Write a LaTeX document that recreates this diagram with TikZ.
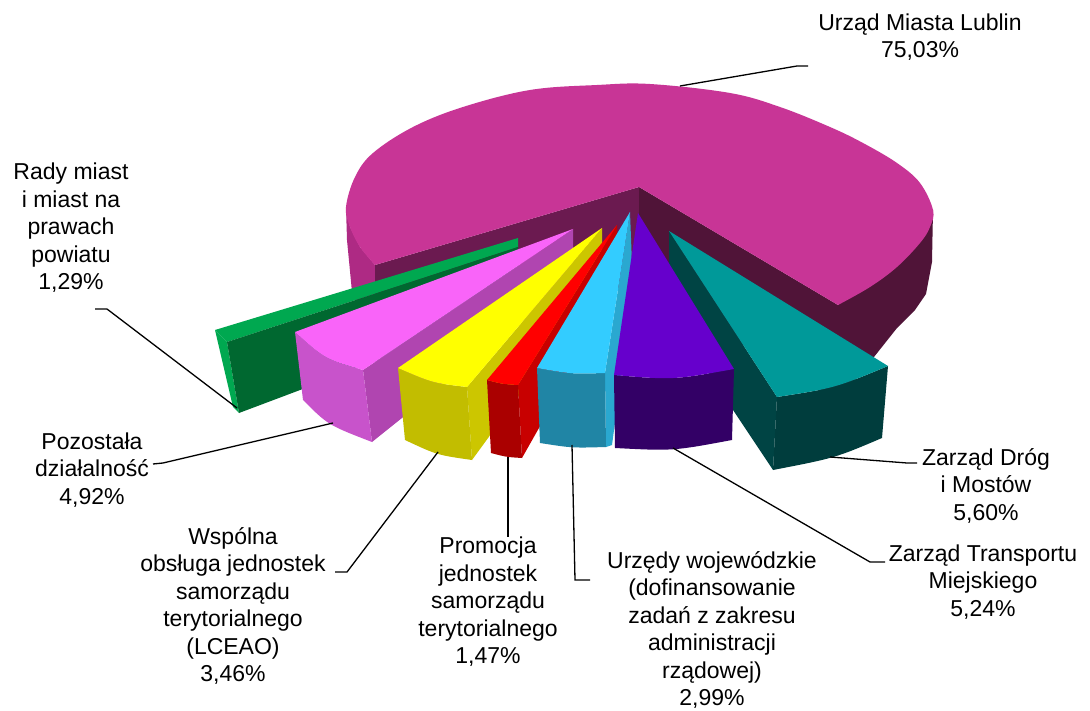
\documentclass[tikz,border=0pt]{standalone}
\usepackage{fontspec}
\setmainfont{Liberation Sans}
\definecolor{mtop}{HTML}{C83596}
\definecolor{mside}{HTML}{AE2A84}
\definecolor{mcutl}{HTML}{6B1A50}
\definecolor{mcutr}{HTML}{501438}
\definecolor{gtop}{HTML}{00A850}
\definecolor{gdark}{HTML}{006830}
\definecolor{ptop}{HTML}{F964F9}
\definecolor{pout}{HTML}{C853CB}
\definecolor{prad}{HTML}{B045B0}
\definecolor{ytop}{HTML}{FFFF00}
\definecolor{yout}{HTML}{C2BD00}
\definecolor{yrad}{HTML}{CCC600}
\definecolor{rtop}{HTML}{FF0000}
\definecolor{rout}{HTML}{AA0000}
\definecolor{rrad}{HTML}{C80000}
\definecolor{btop}{HTML}{33CCFF}
\definecolor{bout}{HTML}{2085A5}
\definecolor{brad}{HTML}{2AA8D0}
\definecolor{vtop}{HTML}{6600CC}
\definecolor{vout}{HTML}{330066}
\definecolor{ttop}{HTML}{009999}
\definecolor{tout}{HTML}{003D3D}
\definecolor{trad}{HTML}{004444}
\begin{document}
\begin{tikzpicture}[x=1pt,y=-1pt,
  lbl/.style={align=center,inner sep=0pt,font=\fontsize{23}{27.5}\selectfont},
  leader/.style={draw=black,line width=1.3pt}]
\path[use as bounding box,fill=white] (0,0) rectangle (1090,711);
% main pie: walls
\fill[mside] (346,207) -- (350,227) -- (360,247) -- (375,265) -- (375,350) -- (352,292) -- (347,240) -- cycle;
\fill[mcutl] (375,265) -- (639,187) -- (639,285) -- (375,350) -- cycle;
\fill[mcutr] (639,187) -- (838,305) -- (838,400) -- (639,285) -- cycle;
\fill[mcutr] (933,210) -- (838,305) -- (838,400) -- (870,362) -- (897,328) -- (915,310) -- (926,294) -- (932,262) -- cycle;
% main pie: top
\fill[mtop] (639,187) -- (375,265) -- plot[smooth,tension=0.6] coordinates {(375,265) (360,247) (350,227) (346,207) (355,177) (373,153) (413,127) (463,107) (530,90) (597,85) (650,84) (730,93) (780,107) (830,127) (863,143) (897,163) (920,183) (933,210) (930,227) (920,243) (897,267) (870,287) (838,305)} -- cycle;
% green slice
\fill[gtop] (215,330) -- (518,238) -- (518,247) -- (227,342) -- cycle;
\fill[gtop] (215,330) -- (227,342) -- (239,413) -- (233,407) -- cycle;
\fill[gdark] (227,342) -- (518,247) -- (518,308) -- (239,413) -- cycle;
% pink slice
\fill[prad] (363,370) -- (573,229) -- (573,281) -- (372,442) -- cycle;
\fill[pout] (295,332) .. controls (325,359) .. (363,370) -- (372,442) .. controls (328,425) .. (303,400) -- cycle;
\fill[ptop] (295,332) .. controls (325,359) .. (363,370) -- (573,229) -- cycle;
% yellow slice
\fill[yrad] (467,387) -- (602,228) -- (602,282) -- (472,460) -- cycle;
\fill[yout] (398,368) .. controls (433,383) .. (467,387) -- (472,460) .. controls (437,455) .. (405,440) -- cycle;
\fill[ytop] (398,368) .. controls (433,383) .. (467,387) -- (602,228) -- cycle;
% red slice
\fill[rrad] (518,385) -- (617,225) -- (617,290) -- (522,458) -- cycle;
\fill[rout] (487,380) .. controls (502,384) .. (518,385) -- (522,458) .. controls (506,457) .. (491,453) -- cycle;
\fill[rtop] (487,380) .. controls (502,384) .. (518,385) -- (617,225) -- cycle;
% blue slice
\fill[brad] (605,373) -- (630,212) -- (633,290) -- (612,445) -- (606,447) -- cycle;
\fill[bout] (537,368) .. controls (571,374) .. (605,373) -- (606,447) .. controls (572,448) .. (540,443) -- cycle;
\fill[btop] (537,368) .. controls (571,374) .. (605,373) -- (630,212) -- cycle;
% teal slice
\fill[trad] (669,231) -- (777,397) -- (773,470) -- (669,314) -- cycle;
\fill[tout] (777,397) .. controls (835,388) .. (888,366) -- (882,438) .. controls (835,458) .. (773,470) -- cycle;
\fill[ttop] (669,231) -- (777,397) .. controls (835,388) .. (888,366) -- cycle;
% purple slice
\fill[vout] (614,375) .. controls (673,380) .. (734,369) -- (732,440) .. controls (673,451) .. (615,448) -- cycle;
\fill[vtop] (638,213) -- (614,375) .. controls (673,380) .. (734,369) -- cycle;
% labels
\node[lbl] (lumL) at (920,37) {Urząd Miasta Lublin\\75,03\%};
\node[lbl] (lrad) at (71,228) {Rady miast\\i miast na\\prawach\\powiatu\\1,29\%};
\node[lbl] (lpoz) at (92,470) {Pozostała\\działalność\\4,92\%};
\node[lbl] (lwsp) at (233,606) {Wspólna\\obsługa jednostek\\samorządu\\terytorialnego\\(LCEAO)\\3,46\%};
\node[lbl] (lpro) at (488,602) {Promocja\\jednostek\\samorządu\\terytorialnego\\1,47\%};
\node[lbl] (luw) at (712,630) {Urzędy wojewódzkie\\(dofinansowanie\\zadań z zakresu\\administracji\\rządowej)\\2,99\%};
\node[lbl] (lztm) at (983,582) {Zarząd Transportu\\Miejskiego\\5,24\%};
\node[lbl] (lzdm) at (986,486) {Zarząd Dróg\\i Mostów\\5,60\%};
% leader coordinates
\coordinate (sUM) at (680,86);   \coordinate (kUM) at (797,66);  \coordinate (eUM) at (808,66);
\coordinate (sRA) at (237,408);  \coordinate (kRA) at (107,309); \coordinate (eRA) at (95,309);
\coordinate (sPO) at (333,423);  \coordinate (kPO) at (163,463); \coordinate (ePO) at (153,464);
\coordinate (sWS) at (438,452);  \coordinate (kWS) at (347,572); \coordinate (eWS) at (335,572);
\coordinate (sPR) at (508,457);  \coordinate (ePR) at (508,537);
\coordinate (sUW) at (572,445);  \coordinate (kUW) at (575,580); \coordinate (eUW) at (590,580);
\coordinate (sZT) at (673,448);  \coordinate (kZT) at (870,562); \coordinate (eZT) at (885,562);
\coordinate (sZD) at (830,457);  \coordinate (kZD) at (907,463); \coordinate (eZD) at (917,463);
\draw[leader] (sUM) -- (kUM) -- (eUM);
\draw[leader] (sRA) -- (kRA) -- (eRA);
\draw[leader] (sPO) -- (kPO) -- (ePO);
\draw[leader] (sWS) -- (kWS) -- (eWS);
\draw[leader] (sPR) -- (ePR);
\draw[leader] (sUW) -- (kUW) -- (eUW);
\draw[leader] (sZT) -- (kZT) -- (eZT);
\draw[leader] (sZD) -- (kZD) -- (eZD);
\end{tikzpicture}
\end{document}
